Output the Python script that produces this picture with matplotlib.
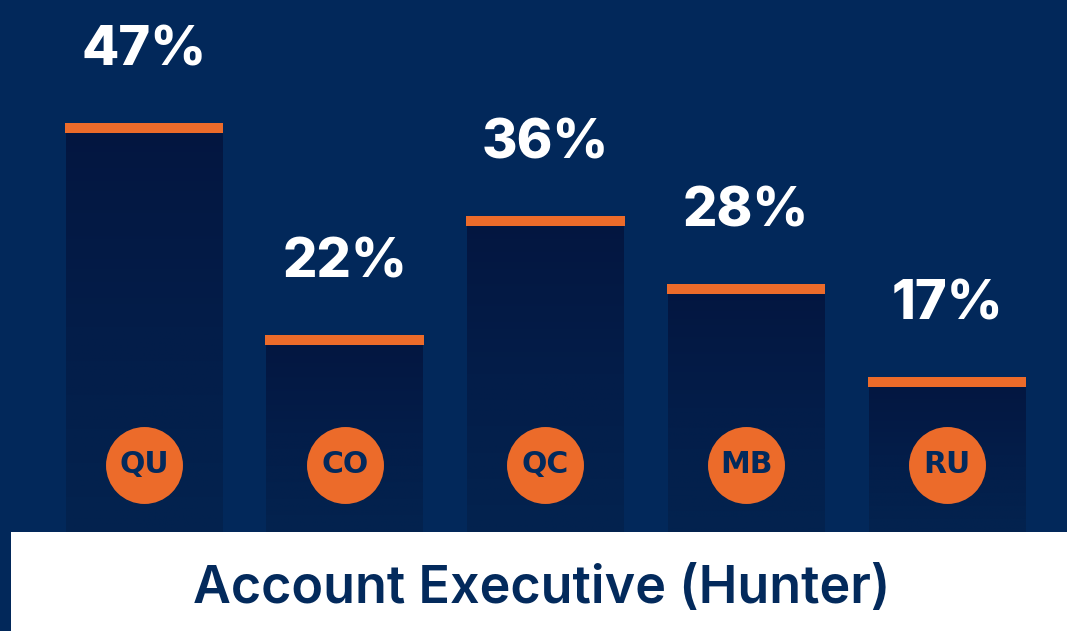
import numpy as np
import matplotlib
matplotlib.use("Agg")
import matplotlib.pyplot as plt
from matplotlib.patches import Rectangle
from matplotlib.colors import LinearSegmentedColormap
import matplotlib.transforms as mtransforms

# data
regions = ["QU", "CO", "QC", "MB", "RU"]
shares = [47, 22, 36, 28, 17]
title = "Account Executive (Hunter)"

bg = "#02285a"
navy = "#032a5c"
orange = "#ec6b2a"
bar_cmap = LinearSegmentedColormap.from_list("bar", ["#041640", "#031d49", "#03234f"])

W, H = 1067, 631
fig = plt.figure(figsize=(W / 100, H / 100), dpi=100)
fig.patch.set_facecolor(bg)

# bar area: top 532 px of the figure
ax = fig.add_axes([0, (H - 532) / H, 1, 532 / H])
ax.set_facecolor(bg)
ax.axis("off")

x = np.arange(len(shares))
bw = 0.78
cap = 1.17
ymin, ymax = -1.29, 61.5

bars = ax.bar(x, np.array(shares) - ymin, bottom=ymin, width=bw, color="none", linewidth=0)
grad = np.linspace(0, 1, 256).reshape(-1, 1)
for b in bars:
    im = ax.imshow(grad, cmap=bar_cmap, aspect="auto", origin="upper",
                   extent=[b.get_x(), b.get_x() + b.get_width(), ymin, b.get_y() + b.get_height()],
                   zorder=1)
    im.set_clip_path(b)
ax.set_xlim(-0.717, 4.598)
ax.set_ylim(ymin, ymax)

ax.bar(x, cap, bottom=np.array(shares) - cap, width=bw + 0.01, color=orange, linewidth=0, zorder=2)

for xi, v in zip(x, shares):
    ax.annotate(f"{v}%", (xi, v), xytext=(0, 51.8), textcoords="offset points",
                ha="center", va="center", color="white", fontsize=39,
                fontfamily="Inter", fontweight="heavy")

trans = mtransforms.blended_transform_factory(ax.transData, ax.transAxes)
ax.scatter(x, [0.126] * len(x), s=3070, color=orange, transform=trans, zorder=3, linewidths=0)
for xi, r in zip(x, regions):
    ax.text(xi, 0.126, r, transform=trans, ha="center", va="center", color=navy,
            fontsize=21.5, fontfamily="DejaVu Sans", fontweight="bold", zorder=4)

# white title panel
fig.patches.append(Rectangle((11 / W, 0), 1, (H - 532) / H, transform=fig.transFigure,
                             facecolor="white", edgecolor="none", zorder=5))
fig.text(542 / W, 1 - 590 / H, title, ha="center", va="center", color=navy,
         fontsize=37.5, fontfamily="Inter", fontweight="semibold", zorder=6)

fig.savefig("out.png", dpi=100, facecolor=bg)
